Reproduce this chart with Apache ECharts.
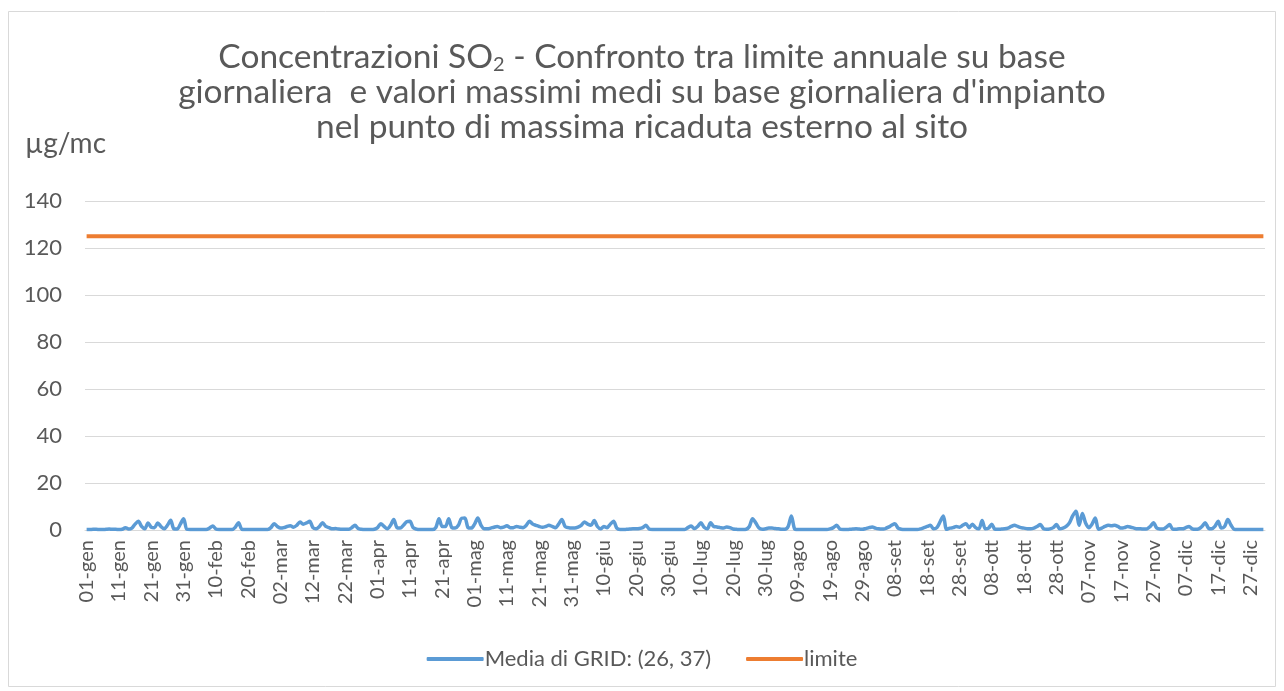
<!DOCTYPE html>
<html>

<head>
	<meta charset="utf-8">
	<title>SO2 concentrazioni</title>
	<script src="https://cdn.jsdelivr.net/npm/echarts@6/dist/echarts.min.js"></script>
	<style>
		body { margin: 0; background: #fff; }
		#chart { width: 1284px; height: 691px; }
	</style>
</head>

<body>
	<div id="chart"></div>
	<script>
		// month names used by the day labels (dd-mmm)
		var mesi = ['gen', 'feb', 'mar', 'apr', 'mag', 'giu', 'lug', 'ago', 'set', 'ott', 'nov', 'dic'];
		var giorniMese = [31, 28, 31, 30, 31, 30, 31, 31, 30, 31, 30, 31];

		// daily maximum means (ug/mc)
		var media = [
			0.2, 0.2, 0.3, 0.3, 0.2, 0.2, 0.3, 0.4, 0.3, 0.3,
			0.2, 0.3, 1.0, 0.4, 0.8, 2.5, 3.7, 1.5, 0.5, 3.0,
			1.2, 1.0, 3.0, 1.5, 0.5, 2.0, 4.1, 0.5, 0.4, 2.5,
			4.8, 0.3, 0.2, 0.2, 0.2, 0.2, 0.2, 0.2, 0.8, 1.7,
			0.4, 0.2, 0.2, 0.2, 0.2, 0.2, 1.2, 3.1, 0.3, 0.2,
			0.2, 0.2, 0.2, 0.2, 0.2, 0.2, 0.2, 1.0, 2.7, 1.5,
			0.8, 1.0, 1.5, 1.8, 1.2, 2.0, 3.4, 2.5, 3.0, 3.7,
			1.0, 0.5, 1.5, 3.1, 1.5, 1.0, 0.5, 0.6, 0.4, 0.3,
			0.3, 0.3, 1.0, 2.0, 0.6, 0.3, 0.2, 0.2, 0.2, 0.3,
			1.0, 2.7, 1.5, 0.5, 2.0, 4.5, 1.0, 0.8, 2.0, 3.5,
			3.7, 1.0, 0.4, 0.2, 0.2, 0.2, 0.2, 0.2, 1.0, 4.8,
			1.5, 1.5, 4.8, 1.0, 0.8, 2.0, 5.0, 5.1, 1.0, 0.8,
			2.5, 5.1, 2.0, 0.5, 0.5, 0.8, 1.2, 1.5, 1.0, 1.2,
			1.8, 1.0, 1.0, 1.5, 1.2, 1.0, 2.0, 3.7, 2.5, 2.0,
			1.5, 1.2, 1.5, 2.0, 1.5, 1.0, 2.5, 4.5, 1.5, 1.0,
			0.8, 0.8, 1.2, 2.0, 3.4, 2.5, 2.0, 4.0, 1.5, 0.5,
			1.5, 1.0, 2.5, 3.7, 0.8, 0.2, 0.2, 0.3, 0.4, 0.5,
			0.5, 0.6, 1.0, 2.0, 0.4, 0.2, 0.2, 0.2, 0.2, 0.2,
			0.2, 0.2, 0.2, 0.2, 0.2, 0.2, 1.0, 1.7, 0.6, 1.5,
			3.1, 1.2, 0.5, 3.1, 1.5, 1.3, 1.0, 0.8, 1.3, 1.0,
			0.4, 0.3, 0.2, 0.2, 0.3, 1.5, 4.8, 3.0, 0.8, 0.3,
			0.5, 0.8, 0.8, 0.6, 0.5, 0.3, 0.3, 1.5, 6.0, 0.5,
			0.2, 0.2, 0.2, 0.2, 0.2, 0.2, 0.2, 0.2, 0.2, 0.2,
			0.5, 1.0, 2.0, 0.4, 0.2, 0.2, 0.3, 0.4, 0.5, 0.4,
			0.3, 0.6, 1.0, 1.3, 0.8, 0.5, 0.4, 0.6, 1.2, 2.0,
			2.7, 0.8, 0.3, 0.2, 0.2, 0.2, 0.2, 0.2, 0.5, 1.0,
			1.5, 2.0, 0.5, 1.0, 3.5, 6.0, 0.3, 0.8, 1.0, 1.5,
			1.2, 2.0, 2.7, 1.0, 2.5, 1.0, 0.5, 4.0, 0.5, 0.8,
			2.5, 0.3, 0.3, 0.4, 0.5, 0.8, 1.5, 2.0, 1.5, 1.0,
			0.8, 0.5, 0.5, 0.8, 1.5, 2.3, 0.5, 0.3, 0.5, 1.0,
			2.3, 0.5, 0.8, 1.5, 3.0, 6.0, 8.0, 2.0, 7.0, 3.0,
			1.0, 2.5, 5.1, 0.3, 0.8, 1.5, 2.0, 1.8, 2.0, 1.5,
			0.8, 1.0, 1.5, 1.2, 0.8, 0.5, 0.5, 0.4, 0.5, 1.5,
			3.1, 0.8, 0.4, 0.4, 1.2, 2.3, 0.3, 0.3, 0.5, 0.5,
			1.0, 1.5, 0.5, 0.3, 0.5, 1.5, 3.1, 0.8, 0.5, 1.5,
			3.7, 0.8, 1.5, 4.5, 2.0, 0.3, 0.2, 0.2, 0.2, 0.2,
			0.2, 0.2, 0.2, 0.2, 0.2
		];

		// annual limit on daily basis
		var limite = 125;

		var yTicks = [0, 20, 40, 60, 80, 100, 120, 140];

		var giorni = [];
		for (var m = 0; m < mesi.length; m++) {
			for (var d = 1; d <= giorniMese[m]; d++) {
				giorni.push((d < 10 ? '0' + d : '' + d) + '-' + mesi[m]);
			}
		}
		var limiteSerie = giorni.map(function () { return limite; });

		var font = 'Lato, "Open Sans", sans-serif';
		var grigio = '#595959';

		var myChart = echarts.init(document.getElementById('chart'));
		var option = {
			animation: false,
			backgroundColor: '#fff',
			textStyle: { fontFamily: font },
			graphic: [
				{
					type: 'rect',
					shape: { x: 8.5, y: 11.5, width: 1267, height: 675 },
					style: { fill: 'none', stroke: '#d9d9d9', lineWidth: 1 },
					silent: true
				},
				{
					type: 'text',
					left: 25,
					top: 130,
					style: { text: 'µg/mc', fontSize: 28, fill: grigio, fontFamily: font }
				}
			],
			title: {
				text: 'Concentrazioni SO{sub|2} - Confronto tra limite annuale su base\ngiornaliera  e valori massimi medi su base giornaliera d\'impianto\nnel punto di massima ricaduta esterno al sito',
				left: 'center',
				top: 35,
				textStyle: {
					fontFamily: font,
					fontSize: 33.5,
					fontWeight: 'normal',
					color: grigio,
					lineHeight: 35,
					rich: {
						sub: { fontSize: 20, verticalAlign: 'bottom', padding: [16, 0, 0, 0], color: grigio, fontFamily: font }
					}
				}
			},
			legend: {
				bottom: 16,
				left: 'center',
				itemWidth: 57,
				itemHeight: 4,
				itemGap: 35,
				icon: 'roundRect',
				textStyle: { fontSize: 22, color: grigio, fontFamily: font, padding: [0, 0, 0, -4] },
				data: ['Media di GRID: (26, 37)', 'limite']
			},
			grid: {
				left: 85,
				right: 19,
				top: 201,
				bottom: 161
			},
			xAxis: {
				type: 'category',
				data: giorni,
				boundaryGap: true,
				axisLine: { lineStyle: { color: '#d9d9d9', width: 1 } },
				axisTick: { show: false },
				axisLabel: {
					interval: 9,
					rotate: 90,
					fontSize: 20,
					color: grigio,
					fontFamily: font,
					margin: 10
				}
			},
			yAxis: {
				type: 'value',
				min: yTicks[0],
				max: yTicks[yTicks.length - 1],
				interval: 20,
				axisLine: { show: false },
				axisTick: { show: false },
				axisLabel: { fontSize: 22, color: grigio, fontFamily: font, margin: 23 },
				splitLine: { lineStyle: { color: '#d9d9d9', width: 1 } }
			},
			series: [
				{
					name: 'Media di GRID: (26, 37)',
					type: 'line',
					data: media,
					symbol: 'none',
					smooth: 0.3,
					lineStyle: { color: '#5b9bd5', width: 3.5 },
					itemStyle: { color: '#5b9bd5' }
				},
				{
					name: 'limite',
					type: 'line',
					data: limiteSerie,
					symbol: 'none',
					lineStyle: { color: '#ed7d31', width: 4 },
					itemStyle: { color: '#ed7d31' }
				}
			]
		};
		myChart.setOption(option);
	</script>
</body>

</html>
